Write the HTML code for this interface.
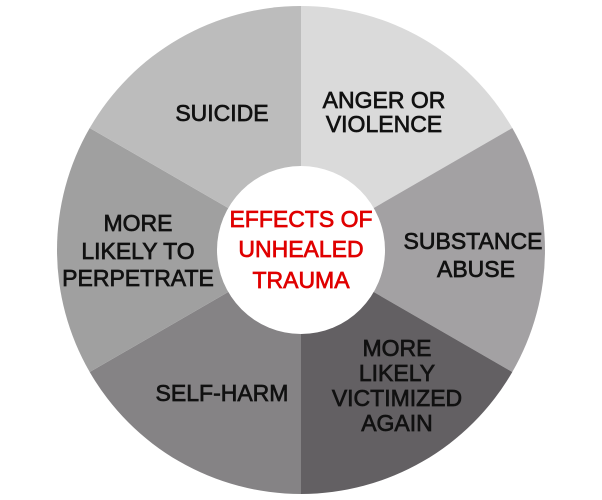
<!DOCTYPE html>
<html><head><style>
html,body{margin:0;padding:0;background:#fff;}
svg{display:block;}
text{font-family:"Liberation Sans",sans-serif;font-size:23px;fill:#111;text-anchor:middle;dominant-baseline:central;stroke:#111;stroke-width:0.7px;}
.c{fill:#e00000;stroke:#e00000;}
</style></head><body>
<svg width="602" height="500" viewBox="0 0 602 500">
<path d="M301,250 L301,6 A244,244 0 0 1 512.3,128 Z" fill="#dadada"/>
<path d="M301,250 L512.3,128 A244,244 0 0 1 512.3,372 Z" fill="#a3a1a3"/>
<path d="M301,250 L512.3,372 A244,244 0 0 1 301,494 Z" fill="#636063"/>
<path d="M301,250 L301,494 A244,244 0 0 1 89.7,372 Z" fill="#858385"/>
<path d="M301,250 L89.7,372 A244,244 0 0 1 89.7,128 Z" fill="#a0a0a0"/>
<path d="M301,250 L89.7,128 A244,244 0 0 1 301,6 Z" fill="#bcbcbc"/>
<circle cx="301" cy="250" r="84" fill="#fff"/>
<text x="222" y="113">SUICIDE</text>
<text x="384" y="100">ANGER OR</text>
<text x="384" y="124">VIOLENCE</text>
<text x="473" y="241">SUBSTANCE</text>
<text x="476" y="269">ABUSE</text>
<text x="397" y="348">MORE</text>
<text x="397" y="373">LIKELY</text>
<text x="397" y="398">VICTIMIZED</text>
<text x="397" y="423">AGAIN</text>
<text x="222" y="393">SELF-HARM</text>
<text x="138" y="223">MORE</text>
<text x="138" y="251">LIKELY TO</text>
<text x="138" y="278">PERPETRATE</text>
<text class="c" x="301" y="219">EFFECTS OF</text>
<text class="c" x="301" y="249">UNHEALED</text>
<text class="c" x="301" y="280">TRAUMA</text>
</svg>
</body></html>
